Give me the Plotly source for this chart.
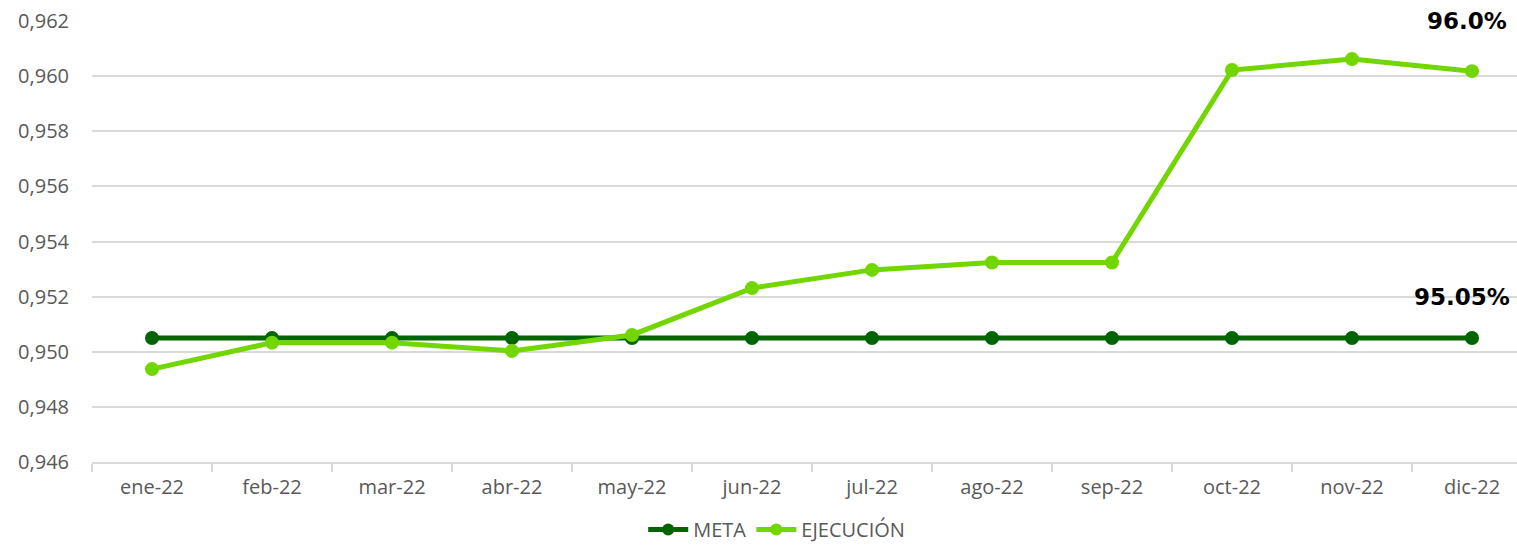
import plotly.graph_objects as go

months = ["ene-22", "feb-22", "mar-22", "abr-22", "may-22", "jun-22",
          "jul-22", "ago-22", "sep-22", "oct-22", "nov-22", "dic-22"]
meta = [0.9505] * 12
ejecucion = [0.94937, 0.95033, 0.95033, 0.95003, 0.95061, 0.95231,
             0.95297, 0.95324, 0.95324, 0.96022, 0.96062, 0.96018]

DARK = "#006400"
LIGHT = "#72D600"
GRAY = "#595959"

fig = go.Figure()
fig.add_trace(go.Scatter(x=months, y=meta, name="META", mode="lines+markers",
                         line=dict(color=DARK, width=5),
                         marker=dict(color=DARK, size=14)))
fig.add_trace(go.Scatter(x=months, y=ejecucion, name="EJECUCIÓN", mode="lines+markers",
                         line=dict(color=LIGHT, width=5),
                         marker=dict(color=LIGHT, size=14)))

fig.add_annotation(x=11, y=0.962, text=f"<b>{ejecucion[-1]*100:.1f}%</b>",
                   showarrow=False, xanchor="center", yanchor="middle", xshift=-5,
                   font=dict(family="DejaVu Sans", size=23, color="black"))
fig.add_annotation(x=11, y=0.952, text=f"<b>{meta[-1]*100:.2f}%</b>",
                   showarrow=False, xanchor="center", yanchor="middle", xshift=-10,
                   font=dict(family="DejaVu Sans", size=23, color="black"))

fig.update_layout(
    width=1517, height=549,
    margin=dict(l=92, r=0, t=21, b=87, autoexpand=False),
    paper_bgcolor="white", plot_bgcolor="white",
    separators=",.",
    font=dict(family="Open Sans", size=20, color=GRAY),
    showlegend=True,
    legend=dict(orientation="h", x=0.512, xanchor="center", xref="container",
                y=0.0, yanchor="bottom", yref="container",
                font=dict(size=20, color=GRAY), itemwidth=40,
                tracegroupgap=0, itemsizing="constant"),
    xaxis=dict(range=[-0.5, 11.375], showgrid=False, showline=True,
               linecolor="#d9d9d9", linewidth=1.5, ticks="outside",
               tickson="boundaries", ticklen=8, tickcolor="#d9d9d9", tickwidth=1.5,
               tickfont=dict(size=20, color=GRAY), ticklabelstandoff=6),
    yaxis=dict(range=[0.946, 0.962], dtick=0.002, tickformat=".3f",
               showgrid=True, gridcolor="#d9d9d9", gridwidth=1.5,
               zeroline=False, showline=False, ticks="",
               tickfont=dict(size=20, color=GRAY), ticklabelstandoff=22),
)

fig.write_html("out.html", config={"displayModeBar": False},
               post_script="document.body.style.margin='0';document.body.style.overflow='hidden';")
